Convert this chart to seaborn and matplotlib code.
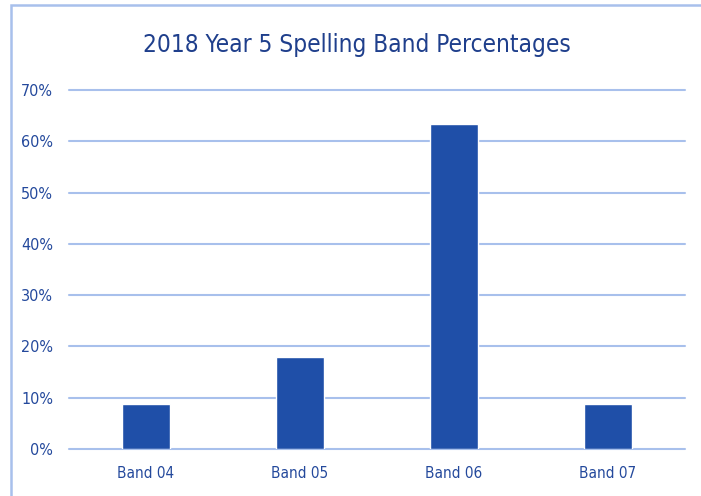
import matplotlib
matplotlib.use("Agg")
import matplotlib.pyplot as plt
import matplotlib.patches as mpatches
from matplotlib.ticker import PercentFormatter
import pandas as pd
import seaborn as sns

bands = ["Band 04", "Band 05", "Band 06", "Band 07"]
percentages = [8.8, 17.9, 63.4, 8.8]
y_ticks = [0, 10, 20, 30, 40, 50, 60, 70]
title = "2018 Year 5 Spelling Band Percentages"

bar_color = "#1f4fa8"
grid_color = "#a8c0ec"
text_color = "#24499c"
title_color = "#1f3f8c"

sns.set_theme(style="white")
plt.rcParams["font.family"] = ["DejaVu Sans"]
plt.rcParams["font.stretch"] = "condensed"

df = pd.DataFrame({"band": bands, "pct": percentages})

fig = plt.figure(figsize=(7.01, 4.96), dpi=100)
ax = fig.add_axes([69 / 701, 1 - 449 / 496, (685 - 69) / 701, (449 - 90) / 496])

sns.barplot(data=df, x="band", y="pct", color=bar_color, width=0.31,
            saturation=1, ax=ax, zorder=3)

ax.set_ylim(0, 70)
ax.set_xlim(-0.5, 3.5)
ax.set_yticks(y_ticks)
ax.yaxis.set_major_formatter(PercentFormatter(decimals=0))
ax.grid(axis="y", color=grid_color, linewidth=1.5, zorder=0)
ax.grid(axis="x", visible=False)
for gl in ax.get_ygridlines():
    gl.set_clip_on(False)
for s in ax.spines.values():
    s.set_visible(False)
ax.tick_params(axis="y", length=0, pad=11.5, labelsize=11.5, labelcolor=text_color)
ax.tick_params(axis="x", length=0, pad=12, labelsize=11, labelcolor=text_color)
ax.set_xlabel("")
ax.set_ylabel("")

fig.text(357 / 701, 1 - 45 / 496, title, ha="center", va="center",
         fontsize=17.5, color=title_color)

# light outer frame of the chart area
frame = mpatches.Rectangle((11 / 701, -0.1), 1.2, 1 - 5 / 496 + 0.1,
                           transform=fig.transFigure, fill=False,
                           edgecolor=grid_color, linewidth=1.8)
fig.patches.append(frame)

fig.savefig("out.png", dpi=100)
